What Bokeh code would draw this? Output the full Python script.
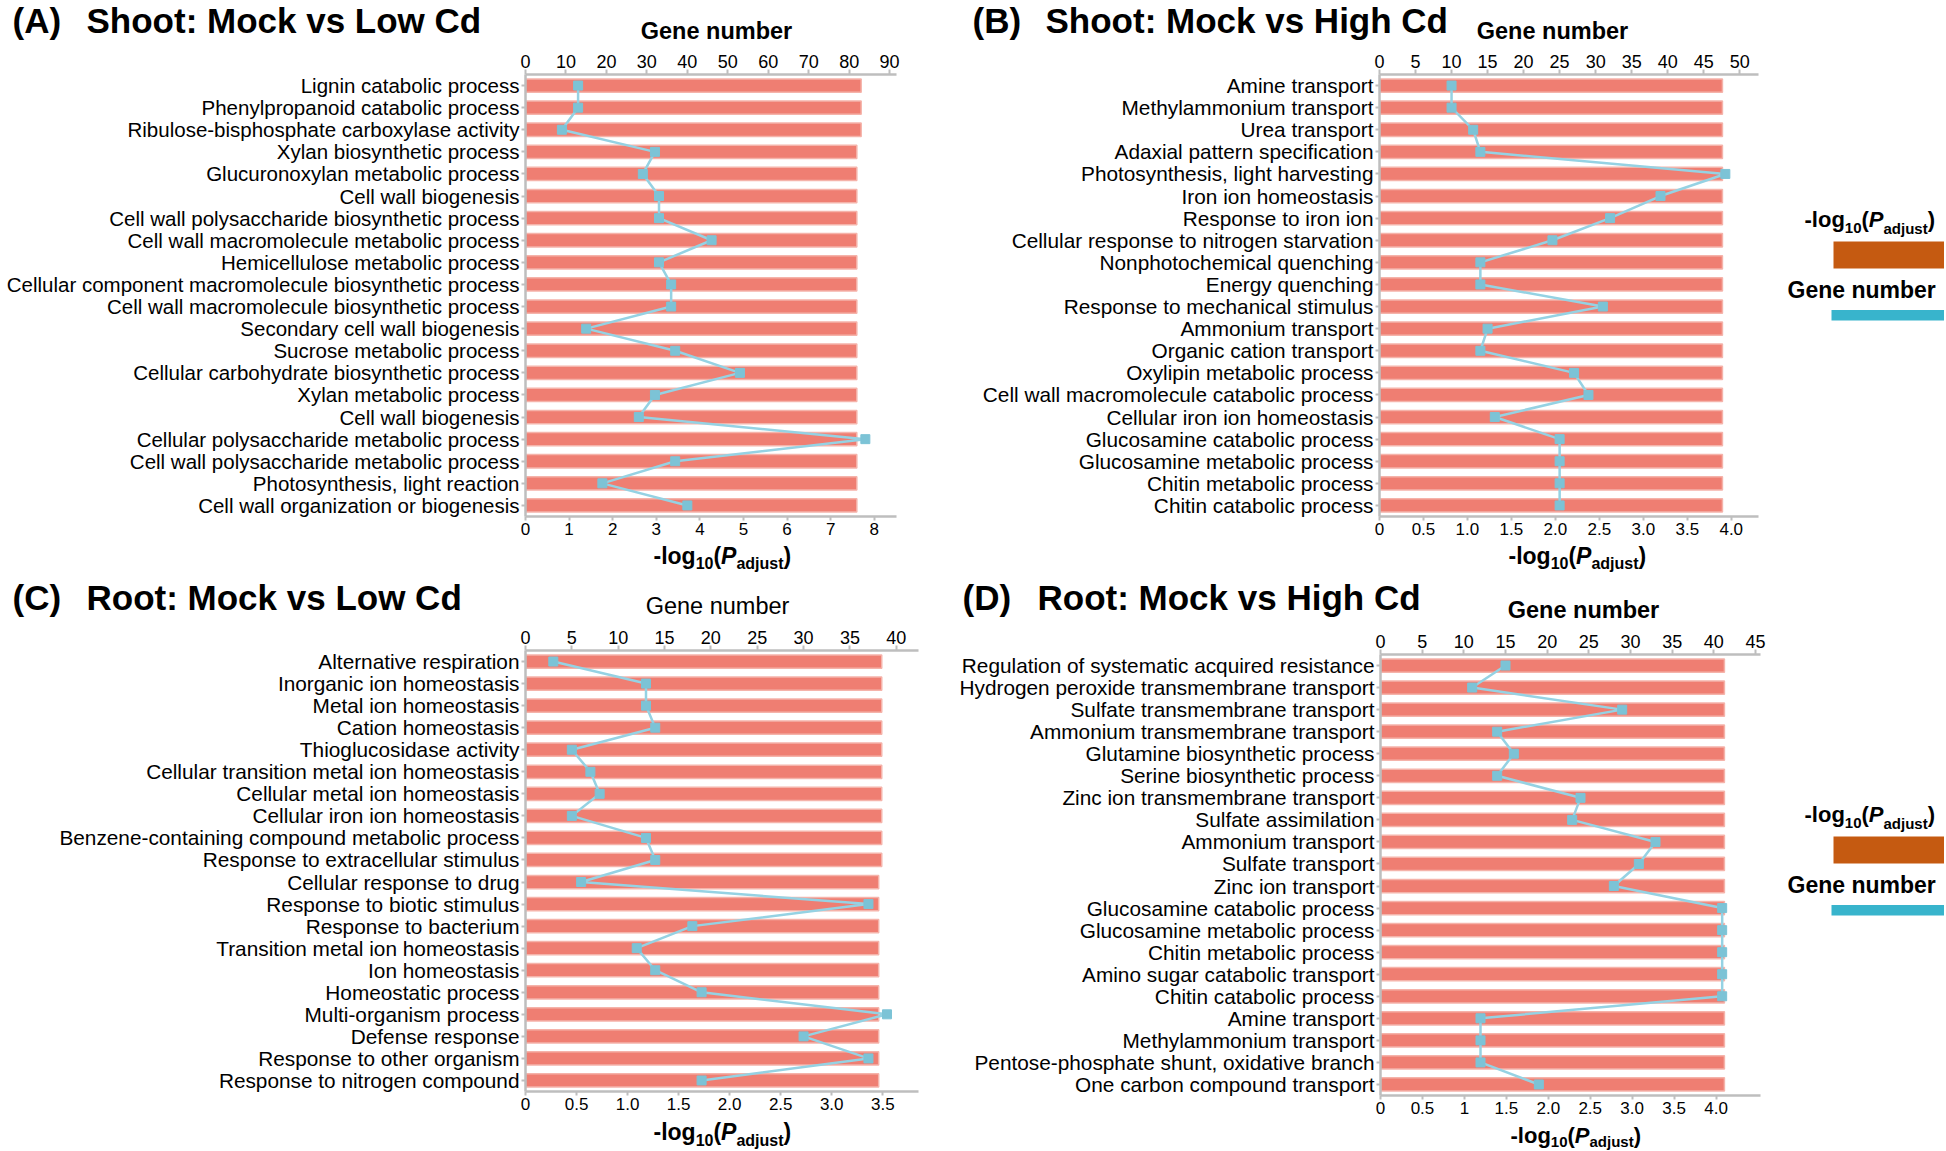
from bokeh.plotting import figure
from bokeh.models import Range1d, LinearAxis, FixedTicker, Label, BoxAnnotation, ColumnDataSource, Spacer
from bokeh.layouts import row, column
from bokeh.embed import file_html
from bokeh.resources import INLINE

FONT = "Liberation Sans"

# ---------------- data ----------------
A_terms = ["Lignin catabolic process", "Phenylpropanoid catabolic process",
           "Ribulose-bisphosphate carboxylase activity", "Xylan biosynthetic process",
           "Glucuronoxylan metabolic process", "Cell wall biogenesis",
           "Cell wall polysaccharide biosynthetic process", "Cell wall macromolecule metabolic process",
           "Hemicellulose metabolic process", "Cellular component macromolecule biosynthetic process",
           "Cell wall macromolecule biosynthetic process", "Secondary cell wall biogenesis",
           "Sucrose metabolic process", "Cellular carbohydrate biosynthetic process",
           "Xylan metabolic process", "Cell wall biogenesis",
           "Cellular polysaccharide metabolic process", "Cell wall polysaccharide metabolic process",
           "Photosynthesis, light reaction", "Cell wall organization or biogenesis"]
A_logp = [7.7, 7.7, 7.7, 7.6, 7.6, 7.6, 7.6, 7.6, 7.6, 7.6,
          7.6, 7.6, 7.6, 7.6, 7.6, 7.6, 7.6, 7.6, 7.6, 7.6]
A_genes = [13, 13, 9, 32, 29, 33, 33, 46, 33, 36, 36, 15, 37, 53, 32, 28, 84, 37, 19, 40]
A_bottom_ticks = [0, 1, 2, 3, 4, 5, 6, 7, 8]
A_top_ticks = [0, 10, 20, 30, 40, 50, 60, 70, 80, 90]
A_bottom_labels = {}

B_terms = ["Amine transport", "Methylammonium transport", "Urea transport",
           "Adaxial pattern specification", "Photosynthesis, light harvesting",
           "Iron ion homeostasis", "Response to iron ion",
           "Cellular response to nitrogen starvation", "Nonphotochemical quenching",
           "Energy quenching", "Response to mechanical stimulus", "Ammonium transport",
           "Organic cation transport", "Oxylipin metabolic process",
           "Cell wall macromolecule catabolic process", "Cellular iron ion homeostasis",
           "Glucosamine catabolic process", "Glucosamine metabolic process",
           "Chitin metabolic process", "Chitin catabolic process"]
B_logp = [3.9, 3.9, 3.9, 3.9, 3.9, 3.9, 3.9, 3.9, 3.9, 3.9,
          3.9, 3.9, 3.9, 3.9, 3.9, 3.9, 3.9, 3.9, 3.9, 3.9]
B_genes = [10, 10, 13, 14, 48, 39, 32, 24, 14, 14, 31, 15, 14, 27, 29, 16, 25, 25, 25, 25]
B_bottom_ticks = [0, 0.5, 1, 1.5, 2, 2.5, 3, 3.5, 4]
B_top_ticks = [0, 5, 10, 15, 20, 25, 30, 35, 40, 45, 50]
B_bottom_labels = {0: "0", 0.5: "0.5", 1: "1.0", 1.5: "1.5", 2: "2.0",
                   2.5: "2.5", 3: "3.0", 3.5: "3.5", 4: "4.0"}

C_terms = ["Alternative respiration", "Inorganic ion homeostasis", "Metal ion homeostasis",
           "Cation homeostasis", "Thioglucosidase activity",
           "Cellular transition metal ion homeostasis", "Cellular metal ion homeostasis",
           "Cellular iron ion homeostasis", "Benzene-containing compound metabolic process",
           "Response to extracellular stimulus", "Cellular response to drug",
           "Response to biotic stimulus", "Response to bacterium",
           "Transition metal ion homeostasis", "Ion homeostasis", "Homeostatic process",
           "Multi-organism process", "Defense response", "Response to other organism",
           "Response to nitrogen compound"]
C_logp = [3.49, 3.49, 3.49, 3.49, 3.49, 3.49, 3.49, 3.49, 3.49, 3.49,
          3.46, 3.46, 3.46, 3.46, 3.46, 3.46, 3.46, 3.46, 3.46, 3.46]
C_genes = [3, 13, 13, 14, 5, 7, 8, 5, 13, 14, 6, 37, 18, 12, 14, 19, 39, 30, 37, 19]
C_bottom_ticks = [0, 0.5, 1, 1.5, 2, 2.5, 3, 3.5]
C_top_ticks = [0, 5, 10, 15, 20, 25, 30, 35, 40]
C_bottom_labels = {0: "0", 0.5: "0.5", 1: "1.0", 1.5: "1.5", 2: "2.0",
                   2.5: "2.5", 3: "3.0", 3.5: "3.5"}

D_terms = ["Regulation of systematic acquired resistance",
           "Hydrogen peroxide transmembrane transport", "Sulfate transmembrane transport",
           "Ammonium transmembrane transport", "Glutamine biosynthetic process",
           "Serine biosynthetic process", "Zinc ion transmembrane transport",
           "Sulfate assimilation", "Ammonium transport", "Sulfate transport",
           "Zinc ion transport", "Glucosamine catabolic process",
           "Glucosamine metabolic process", "Chitin metabolic process",
           "Amino sugar catabolic transport", "Chitin catabolic process", "Amine transport",
           "Methylammonium transport", "Pentose-phosphate shunt, oxidative branch",
           "One carbon compound transport"]
D_logp = [4.1, 4.1, 4.1, 4.1, 4.1, 4.1, 4.1, 4.1, 4.1, 4.1,
          4.1, 4.1, 4.1, 4.1, 4.1, 4.1, 4.1, 4.1, 4.1, 4.1]
D_genes = [15, 11, 29, 14, 16, 14, 24, 23, 33, 31, 28, 41, 41, 41, 41, 41, 12, 12, 12, 19]
D_bottom_ticks = [0, 0.5, 1, 1.5, 2, 2.5, 3, 3.5, 4]
D_top_ticks = [0, 5, 10, 15, 20, 25, 30, 35, 40, 45]
D_bottom_labels = {0: "0", 0.5: "0.5", 1: "1", 1.5: "1.5", 2: "2.0",
                   2.5: "2.5", 3: "3.0", 3.5: "3.5", 4: "4.0"}

# ---------------- style ----------------
BAR = "#EF7E72"
BAR_EDGE = "#F5B3AA"
LINE = "#95D2E3"
MARK = "#7CC3D6"
GRAY = "#BEBEBE"
ORANGE = "#C55A11"
CYAN = "#38B4CC"


def make_panel(terms, logp, genes, bticks, tticks, blabels, W, bl, bt, fw, fh, bb,
               xend, gend, label_size):
    H = bt + fh + bb
    p = figure(width=W, height=H, output_backend="svg", toolbar_location=None,
               x_range=Range1d(0, xend), y_range=Range1d(19.5, -0.5),
               min_border_left=bl, min_border_top=bt, min_border_right=W - bl - fw,
               min_border_bottom=bb, background_fill_color="white",
               border_fill_color="white")
    p.frame_align = False
    p.outline_line_color = None
    p.xgrid.visible = False
    p.ygrid.visible = False
    p.extra_x_ranges = {"gene": Range1d(0, gend)}

    idx = list(range(len(terms)))
    src = ColumnDataSource(dict(y=idx, logp=logp, genes=genes))
    p.hbar(y="y", left=0, right="logp", height=0.6, source=src,
           fill_color=BAR, line_color=BAR_EDGE, line_width=1.5)
    p.line(x="genes", y="y", source=src, x_range_name="gene",
           line_color=LINE, line_width=2.5)
    p.scatter(x="genes", y="y", source=src, x_range_name="gene", marker="square",
              size=9, fill_color=MARK, line_color=MARK)

    top = LinearAxis(x_range_name="gene", ticker=FixedTicker(ticks=tticks))
    p.add_layout(top, "above")
    bottom = p.below[0]
    bottom.ticker = FixedTicker(ticks=bticks)
    if blabels:
        bottom.major_label_overrides = blabels
    left = p.left[0]
    left.ticker = FixedTicker(ticks=idx)
    left.major_label_overrides = {i: t for i, t in enumerate(terms)}

    for ax in (bottom, top, left):
        ax.axis_line_color = GRAY
        ax.axis_line_width = 2.5
        ax.major_tick_line_color = GRAY
        ax.major_tick_line_width = 2
        ax.major_tick_out = 5
        ax.major_tick_in = 0
        ax.minor_tick_line_color = None
        ax.major_label_text_font = FONT
        ax.major_label_text_font_size = "18px"
        ax.major_label_text_color = "black"
        ax.major_label_standoff = 2
    bottom.major_tick_out = 4
    bottom.major_label_text_font_size = "17px"
    left.major_label_text_font_size = label_size
    left.major_tick_out = 4
    left.major_label_standoff = 2
    return p


def decor(w, h):
    f = figure(width=w, height=h, x_range=Range1d(0, w), y_range=Range1d(h, 0),
               min_border=0, toolbar_location=None, output_backend="svg",
               x_axis_type=None, y_axis_type=None,
               background_fill_color="white", border_fill_color="white")
    f.frame_align = False
    f.outline_line_color = None
    return f


def lab(f, x, y, text, size, style="bold", align="left"):
    # y is the wanted baseline (px from the top of the strip)
    f.add_layout(Label(x=x, y=y - 0.35 * size, text=text, text_font=FONT,
                       text_font_size=f"{size}px", text_font_style=style,
                       text_align=align, text_baseline="alphabetic",
                       text_color="black"))


def logp_title(f, x0, yb, main=23, sub=16, drop=6):
    parts = [("-log", main, "bold", 0, 1.833), ("10", sub, "bold", drop, 1.112),
             ("(", main, "bold", 0, 0.333), ("P", main, "bold italic", 0, 0.667),
             ("adjust", sub, "bold", drop, 2.945), (")", main, "bold", 0, 0.333)]
    x = x0
    for txt, size, style, d, em in parts:
        lab(f, x, yb + d, txt, size, style)
        x += em * size


def legend_fig():
    f = decor(164, 130)
    logp_title(f, 24, 27, main=22, sub=15, drop=6)
    f.add_layout(BoxAnnotation(left=53, right=164, top=41, bottom=68,
                               fill_color=ORANGE, fill_alpha=1.0, line_color=None))
    lab(f, 7, 98, "Gene number", 23, "bold")
    f.add_layout(BoxAnnotation(left=51, right=164, top=109.5, bottom=120,
                               fill_color=CYAN, fill_alpha=1.0, line_color=None))
    return f


# ---------------- panels ----------------
pA = make_panel(A_terms, A_logp, A_genes, A_bottom_ticks, A_top_ticks, A_bottom_labels,
                930, 525, 30, 371, 442, 27, 8.51, 91.7, "20.5px")
pB = make_panel(B_terms, B_logp, B_genes, B_bottom_ticks, B_top_ticks, B_bottom_labels,
                850, 449, 30, 379, 442, 27, 4.31, 52.6, "20.8px")
pC = make_panel(C_terms, C_logp, C_genes, C_bottom_ticks, C_top_ticks, C_bottom_labels,
                930, 525, 30, 393, 441, 27, 3.85, 42.4, "20.8px")
pD = make_panel(D_terms, D_logp, D_genes, D_bottom_ticks, D_top_ticks, D_bottom_labels,
                850, 450, 30, 380, 441, 27, 4.53, 45.6, "20.8px")

# headers
hA = decor(930, 44)
lab(hA, 12, 32, "(A)", 35)
lab(hA, 86, 32, "Shoot: Mock vs Low Cd", 35)
lab(hA, 716, 38.5, "Gene number", 23.5, "bold", "center")

hB = decor(850, 44)
lab(hB, 42, 32, "(B)", 35)
lab(hB, 115, 32, "Shoot: Mock vs High Cd", 35)
lab(hB, 622, 38.5, "Gene number", 23.5, "bold", "center")

hC = decor(930, 48)
lab(hC, 12, 37, "(C)", 35)
lab(hC, 86, 37, "Root: Mock vs Low Cd", 35)
lab(hC, 717, 42, "Gene number", 23.5, "normal", "center")

hD = decor(850, 52)
lab(hD, 32, 37, "(D)", 35)
lab(hD, 107, 37, "Root: Mock vs High Cd", 35)
lab(hD, 653, 46, "Gene number", 23.5, "bold", "center")

# footers
fA = decor(930, 29)
logp_title(fA, 653, 21, main=23, sub=16, drop=4.5)
fB = decor(850, 29)
logp_title(fB, 578, 21, main=23, sub=16, drop=4.5)
fC = decor(930, 32)
logp_title(fC, 653, 21.5, main=23, sub=16, drop=6)
fD = decor(850, 28)
logp_title(fD, 580, 20.5, main=22, sub=15, drop=4)

leg1 = column(Spacer(width=164, height=200), legend_fig(), Spacer(width=164, height=242))
leg2 = column(Spacer(width=164, height=223), legend_fig(), Spacer(width=164, height=225))

layout = column(
    row(column(hA, pA, fA), column(hB, pB, fB), leg1),
    row(column(hC, pC, fC), column(hD, pD, fD), leg2),
)
open("out.html", "w").write(file_html(layout, INLINE))
